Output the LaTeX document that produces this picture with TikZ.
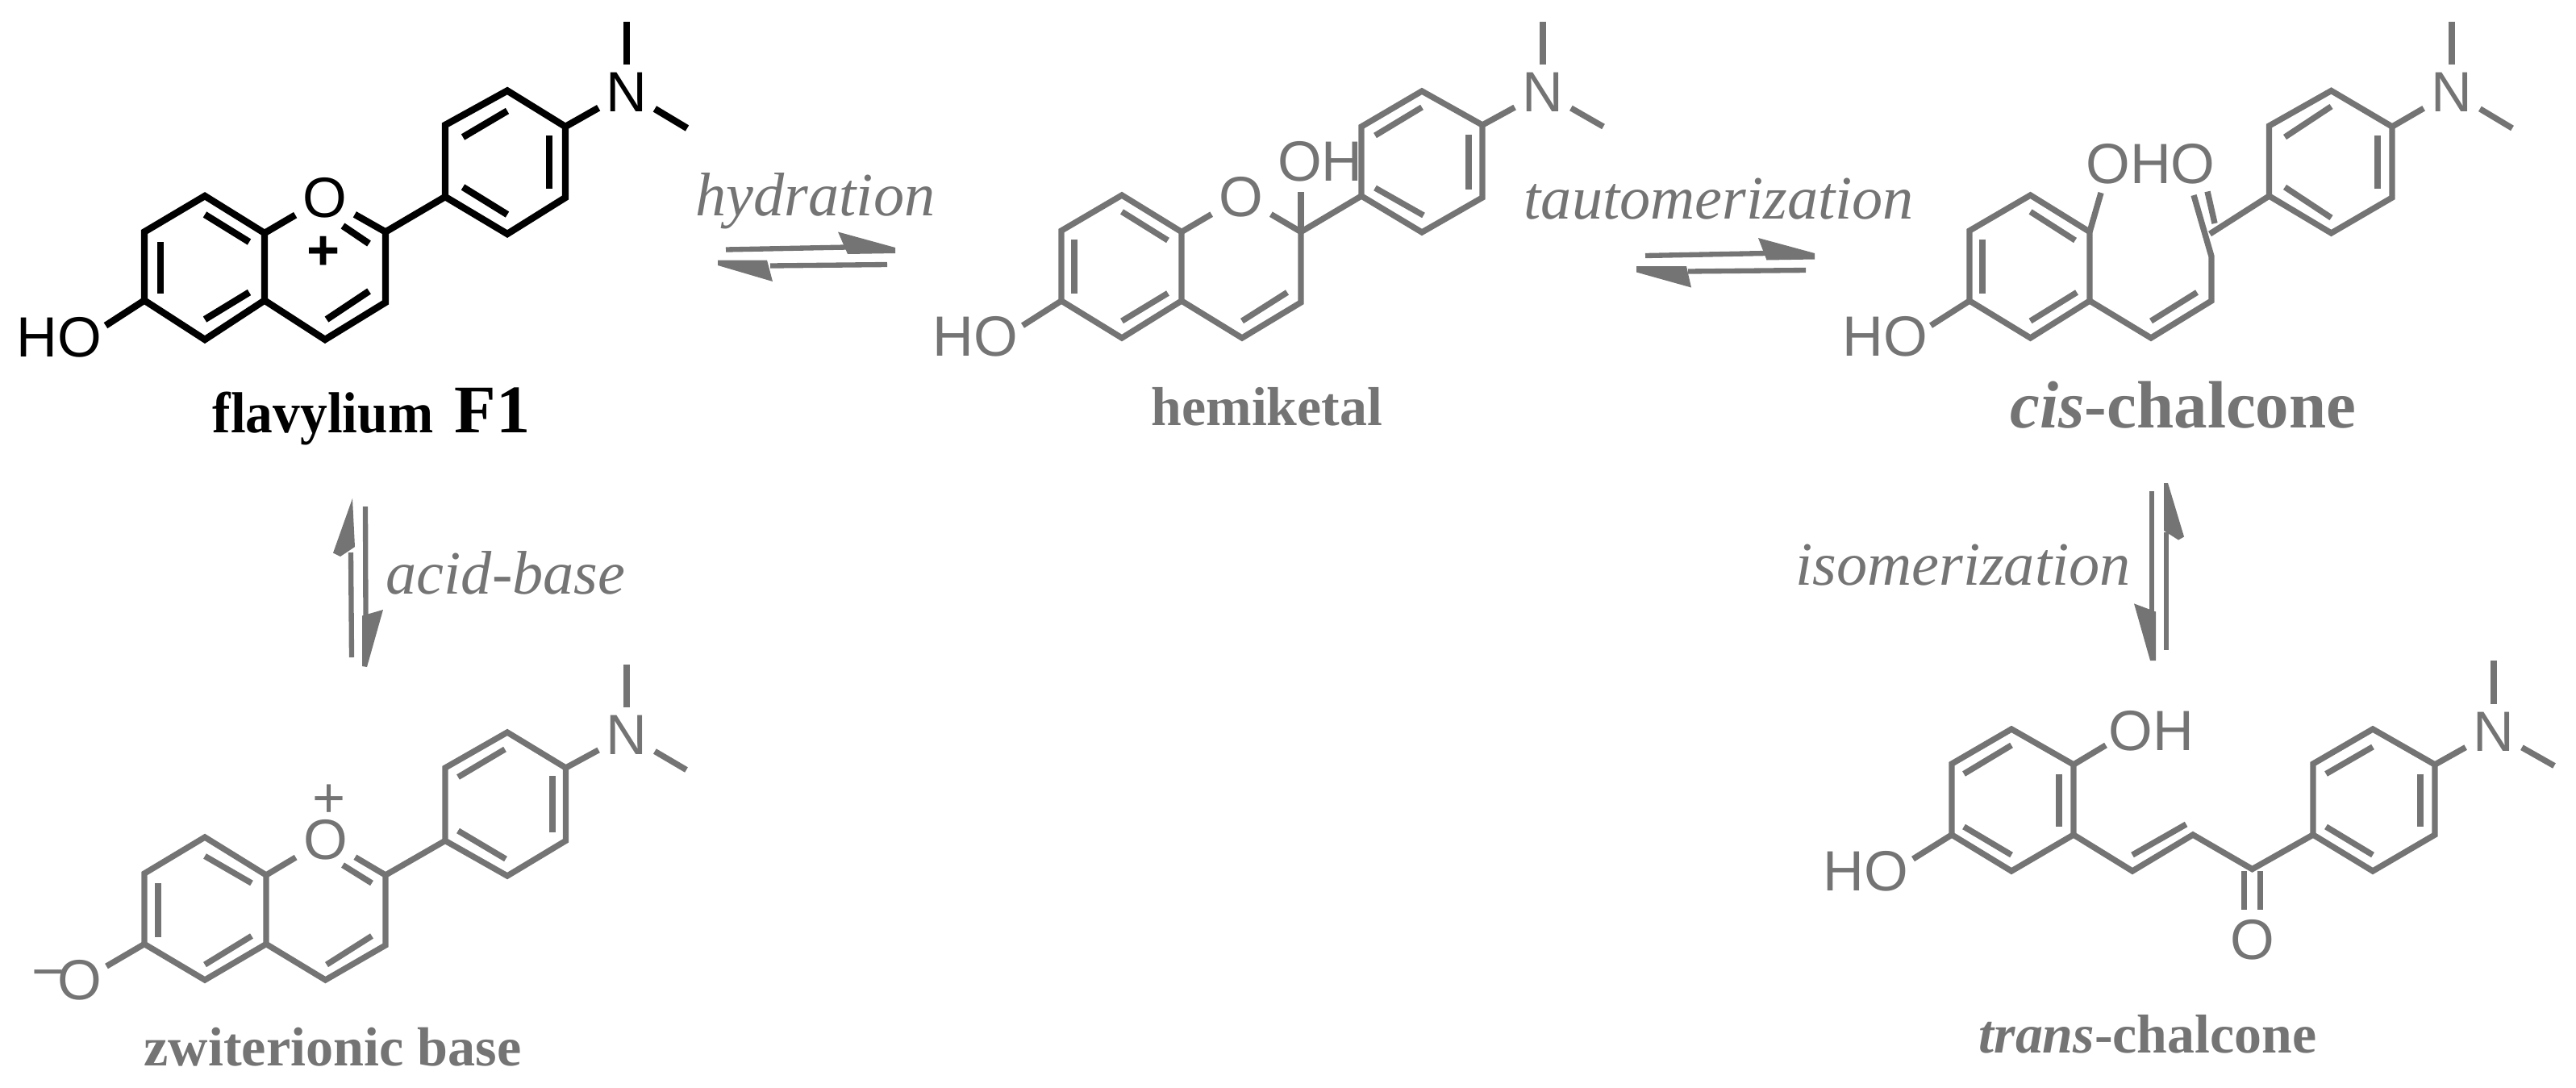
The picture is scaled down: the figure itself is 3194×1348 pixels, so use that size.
\documentclass[tikz,border=0pt]{standalone}
\usepackage{fontspec}
\setmainfont{Liberation Serif}
\setsansfont{Liberation Sans}
\usepackage{graphicx}
\usepackage{xcolor}
\definecolor{molgray}{HTML}{747474}

\tikzset{
  bondk/.style={line width=2.4pt, black},
  bondg/.style={line width=2.1pt, molgray},
  atomk/.style={inner sep=2.5pt, black, font=\fontsize{20}{24}\selectfont\sffamily},
  atomg/.style={inner sep=2.5pt, molgray, font=\fontsize{20}{24}\selectfont\sffamily},
  namelab/.style={inner sep=0pt, anchor=base west, font=\bfseries},
  steplab/.style={inner sep=0pt, anchor=base west, molgray, font=\fontsize{21.7}{26}\selectfont\itshape},
  eqline/.style={line width=1.8pt, molgray},
  eqhead/.style={fill=molgray, draw=none}
}

\begin{document}
\begin{tikzpicture}[x=0.01cm, y=-0.01cm]
  \useasboundingbox (0,0) rectangle (3194,1348);

  % Flavylium
  \foreach \n/\x/\y in {a/179/287.5, b/179/372.5, c/254/421, d/328/372.5, e/328/289, g/254/243,
    p/478/287.5, q/478/375, r/403/421,
    s/552/244, t/629/290, u/701/245, v/701/157, w/629/112.5, x/552/155,
    m1/777/27, m2/852/159, oh/131/403.6}
    \coordinate (f\n) at (\x,\y);
  \node[atomk] (fN) at (777,114) {N};
  \node[atomk] (fO) at (403,245) {O};
  \node[atomk] (fHO) at (73,418) {HO};
  \node[atomk, font=\fontsize{20}{24}\selectfont\sffamily\bfseries] (fplus) at (401,314) {+};
  \draw[bondk] (fa) -- (fb) -- (fc) -- (fd) -- (fe) -- (fg) -- cycle;
  \draw[bondk] (fd) -- (fr) -- (fq) -- (fp) -- (fs);
  \draw[bondk] (fs) -- (ft) -- (fu) -- (fv) -- (fw) -- (fx) -- cycle;
  \draw[bondk] (fe) -- (fO);
  \draw[bondk] (fO) -- (fp);
  \draw[bondk] (fv) -- (fN);
  \draw[bondk] (fN) -- (fm1);
  \draw[bondk] (fN) -- (fm2);
  \draw[bondk] (fb) -- (foh);
  \foreach \ax/\ay/\bx/\by in {199/300/199/364, 254/266/309/300, 254/396/309/362.5,
    425/280/457.5/302, 457.5/361/405/396, 574/170/629/137.5, 681/168/681/234, 574/232/629/266}
    \draw[bondk] (\ax,\ay) -- (\bx,\by);
  \node[namelab, font=\fontsize{20.4}{26}\selectfont\bfseries] (flab) at (263,536) {\scalebox{.94}[1]{flavylium}};
  \node[namelab, font=\fontsize{24}{28}\selectfont\bfseries] (fnum) at (563,536) {F1};

  % Hemiketal
  \foreach \n/\x/\y in {a/1316/286, b/1316/373, c/1391/419, d/1465/373, e/1465/287.5, g/1391/242,
    p/1613/287.5, q/1613/375, r/1540/419,
    s/1688/243, t/1763/288, u/1838/245, v/1838/155, w/1763/113, x/1688/157,
    m1/1913/27, m2/1988/157, oh/1268/403.6, ot/1613/237.5}
    \coordinate (h\n) at (\x,\y);
  \node[atomg] (hN) at (1913,114) {N};
  \node[atomg] (hO) at (1539,244) {O};
  \node[atomg] (hHO) at (1209,417) {HO};
  \node[atomg] (hOH) at (1637,200) {OH};
  \draw[bondg] (ha) -- (hb) -- (hc) -- (hd) -- (he) -- (hg) -- cycle;
  \draw[bondg] (hd) -- (hr) -- (hq) -- (hp) -- (hs);
  \draw[bondg] (hs) -- (ht) -- (hu) -- (hv) -- (hw) -- (hx) -- cycle;
  \draw[bondg] (he) -- (hO);
  \draw[bondg] (hO) -- (hp);
  \draw[bondg] (hp) -- (hot);
  \draw[bondg] (hv) -- (hN);
  \draw[bondg] (hN) -- (hm1);
  \draw[bondg] (hN) -- (hm2);
  \draw[bondg] (hb) -- (hoh);
  \foreach \ax/\ay/\bx/\by in {1332/296.5/1332/364, 1391/262.5/1448/298, 1391/398/1448/363.5,
    1596/362.5/1540/398, 1705/168/1763/133, 1821/167/1821/235, 1705/233/1765/267}
    \draw[bondg] (\ax,\ay) -- (\bx,\by);
  \node[namelab, molgray, font=\fontsize{19.3}{24}\selectfont\bfseries] (hlab) at (1427,527) {hemiketal};

  % cis-chalcone
  \foreach \n/\x/\y in {a/2442/286, b/2442/373, c/2517.5/419, d/2591/373, e/2591/287.5, g/2517.5/242,
    p/2742/318, q/2742/373, r/2667/419, k/2740/290, o1/2720/242, o2/2737/237.5, o3/2746/277,
    s/2813.5/243, t/2890.5/289, u/2966/245, v/2966/157, w/2890.5/112.5, x/2813.5/156,
    m1/3040/27, m2/3115/159, oh/2394/403.6, ot/2605/239}
    \coordinate (c\n) at (\x,\y);
  \node[atomg] (cN) at (3040,114) {N};
  \node[atomg] (cHO) at (2337,417) {HO};
  \node[atomg] (cOHO) at (2666.5,203) {OHO};
  \draw[bondg] (ca) -- (cb) -- (cc) -- (cd) -- (ce) -- (cg) -- cycle;
  \draw[bondg] (cd) -- (cr) -- (cq) -- (cp) -- (co1);
  \draw[bondg] (co2) -- (co3);
  \draw[bondg] (ck) -- (cs);
  \draw[bondg] (cs) -- (ct) -- (cu) -- (cv) -- (cw) -- (cx) -- cycle;
  \draw[bondg] (ce) -- (cot);
  \draw[bondg] (cv) -- (cN);
  \draw[bondg] (cN) -- (cm1);
  \draw[bondg] (cN) -- (cm2);
  \draw[bondg] (cb) -- (coh);
  \foreach \ax/\ay/\bx/\by in {2458/296.5/2458/364, 2517.5/262.5/2573/298, 2517.5/398/2575/362.5,
    2724/362.5/2667/398, 2833/170/2890.5/132, 2948/168/2948/234, 2833/232/2890.5/270}
    \draw[bondg] (\ax,\ay) -- (\bx,\by);
  \node[namelab, molgray, font=\fontsize{23.6}{28}\selectfont\bfseries] (clab) at (2492,530) {\textit{cis}-chalcone};

  % Zwitterionic base
  \foreach \n/\x/\y in {a/179/1083, b/179/1170.5, c/254/1215, d/330/1170.5, e/330/1085, g/254/1038,
    p/478/1085, q/478/1172, r/403.5/1215,
    s/552/1042.4, t/629/1086, u/701.5/1042.4, v/701.5/952, w/629/908, x/552/952,
    m1/777/824, m2/851/954.5, oh/132/1198}
    \coordinate (z\n) at (\x,\y);
  \node[atomg] (zN) at (777,911) {N};
  \node[atomg] (zO) at (403.5,1041) {O};
  \node[atomg, inner sep=0pt] (zOm) at (83,1215) {\raisebox{3pt}{−}\kern-2.4pt O};
  \node[atomg, inner sep=0pt] (zplus) at (407.6,993) {+};
  \draw[bondg] (za) -- (zb) -- (zc) -- (zd) -- (ze) -- (zg) -- cycle;
  \draw[bondg] (zd) -- (zr) -- (zq) -- (zp) -- (zs);
  \draw[bondg] (zs) -- (zt) -- (zu) -- (zv) -- (zw) -- (zx) -- cycle;
  \draw[bondg] (ze) -- (zO);
  \draw[bondg] (zO) -- (zp);
  \draw[bondg] (zv) -- (zN);
  \draw[bondg] (zN) -- (zm1);
  \draw[bondg] (zN) -- (zm2);
  \draw[bondg] (zb) -- (zoh);
  \foreach \ax/\ay/\bx/\by in {196/1095/196/1162, 254/1061.5/312/1095, 254/1196/312/1160.5,
    425/1072.6/461/1095, 461/1160.5/405/1196, 568/963.5/626/929, 685/962/685/1032, 568/1030/627/1065}
    \draw[bondg] (\ax,\ay) -- (\bx,\by);
  \node[namelab, molgray, font=\fontsize{19.4}{24}\selectfont\bfseries] (zlab) at (178,1321) {zwiterionic base};

  % trans-chalcone
  \foreach \n/\x/\y in {a/2420/947, b/2420/1035, c/2494/1080, d/2571/1035, e/2571/948, g/2494/904,
    p/2644/1080, q/2719/1035, r/2792.5/1077.6,
    s/2868/1035, t/2942/1080, u/3019/1035, v/3019/948, w/2942/904, x/2868/947,
    m1/3092/819, m2/3167/949.5, oh/2372/1065, ot/2611/924}
    \coordinate (t\n) at (\x,\y);
  \node[atomg] (tN) at (3092,907) {N};
  \node[atomg] (tHO) at (2313.5,1080) {HO};
  \node[atomg] (tOH) at (2667,906) {OH};
  \node[atomg] (tO) at (2792.5,1165.5) {O};
  \draw[bondg] (ta) -- (tb) -- (tc) -- (td) -- (te) -- (tg) -- cycle;
  \draw[bondg] (td) -- (tp) -- (tq) -- (tr) -- (ts);
  \draw[bondg] (ts) -- (tt) -- (tu) -- (tv) -- (tw) -- (tx) -- cycle;
  \draw[bondg] (te) -- (tot);
  \draw[bondg] (tv) -- (tN);
  \draw[bondg] (tN) -- (tm1);
  \draw[bondg] (tN) -- (tm2);
  \draw[bondg] (tb) -- (toh);
  \foreach \ax/\ay/\bx/\by in {2435/959.5/2494/924, 2553/959.5/2553/1025, 2435/1025/2494/1060,
    2644/1060/2710.6/1022, 2782.5/1080/2782.5/1128, 2802.5/1080/2802.5/1128,
    2884/959.5/2942/926, 3001/959.5/3001/1025, 2884/1025/2942/1060}
    \draw[bondg] (\ax,\ay) -- (\bx,\by);
  \node[namelab, molgray, font=\fontsize{19.3}{24}\selectfont\bfseries] (tlab) at (2453,1305) {\textit{trans}-chalcone};

  % Equilibrium arrows
  \coordinate (hyda) at (900,309.5);
  \coordinate (hydb) at (1050,306.5);
  \coordinate (hydc) at (1100,328);
  \coordinate (hydd) at (955,329.5);
  \draw[eqline] (hyda) -- (hydb);
  \draw[eqline] (hydc) -- (hydd);
  \fill[eqhead] (1039,287.5) -- (1110,307) -- (1110,314) -- (1051,315) -- cycle;
  \fill[eqhead] (890,322.5) -- (890,329) -- (958,349) -- (951,322.5) -- cycle;
  \node[steplab] (hydlab) at (862,267) {hydration};

  \coordinate (taua) at (2040,317);
  \coordinate (taub) at (2190,314);
  \coordinate (tauc) at (2239,335);
  \coordinate (taud) at (2093,336.5);
  \draw[eqline] (taua) -- (taub);
  \draw[eqline] (tauc) -- (taud);
  \fill[eqhead] (2180,295) -- (2250,314) -- (2250,321.5) -- (2190.5,322.5) -- cycle;
  \fill[eqhead] (2029,330) -- (2029,337.5) -- (2097,356.5) -- (2091,330) -- cycle;
  \node[steplab] (taulab) at (1889,271) {tautomerization};

  \coordinate (acia) at (435,685);
  \coordinate (acib) at (436,815);
  \coordinate (acic) at (453,628);
  \coordinate (acid) at (453.5,766);
  \draw[eqline] (acia) -- (acib);
  \draw[eqline] (acic) -- (acid);
  \fill[eqhead] (437,618) -- (440,678) -- (422,690) -- (413,685.6) -- cycle;
  \fill[eqhead] (475,756) -- (455,827) -- (449,826) -- (449,763.5) -- cycle;
  \node[steplab] (acilab) at (478,736) {acid-base};

  \coordinate (isoa) at (2668,609);
  \coordinate (isob) at (2668,760);
  \coordinate (isoc) at (2686,806);
  \coordinate (isod) at (2686,660);
  \draw[eqline] (isoa) -- (isob);
  \draw[eqline] (isoc) -- (isod);
  \fill[eqhead] (2646,748.4) -- (2673,758.5) -- (2673,819) -- (2666,819) -- cycle;
  \fill[eqhead] (2683,599) -- (2688,599) -- (2708,665.5) -- (2701,669.5) -- (2683,658) -- cycle;
  \node[steplab] (isolab) at (2225.6,725) {isomerization};
\end{tikzpicture}
\end{document}
